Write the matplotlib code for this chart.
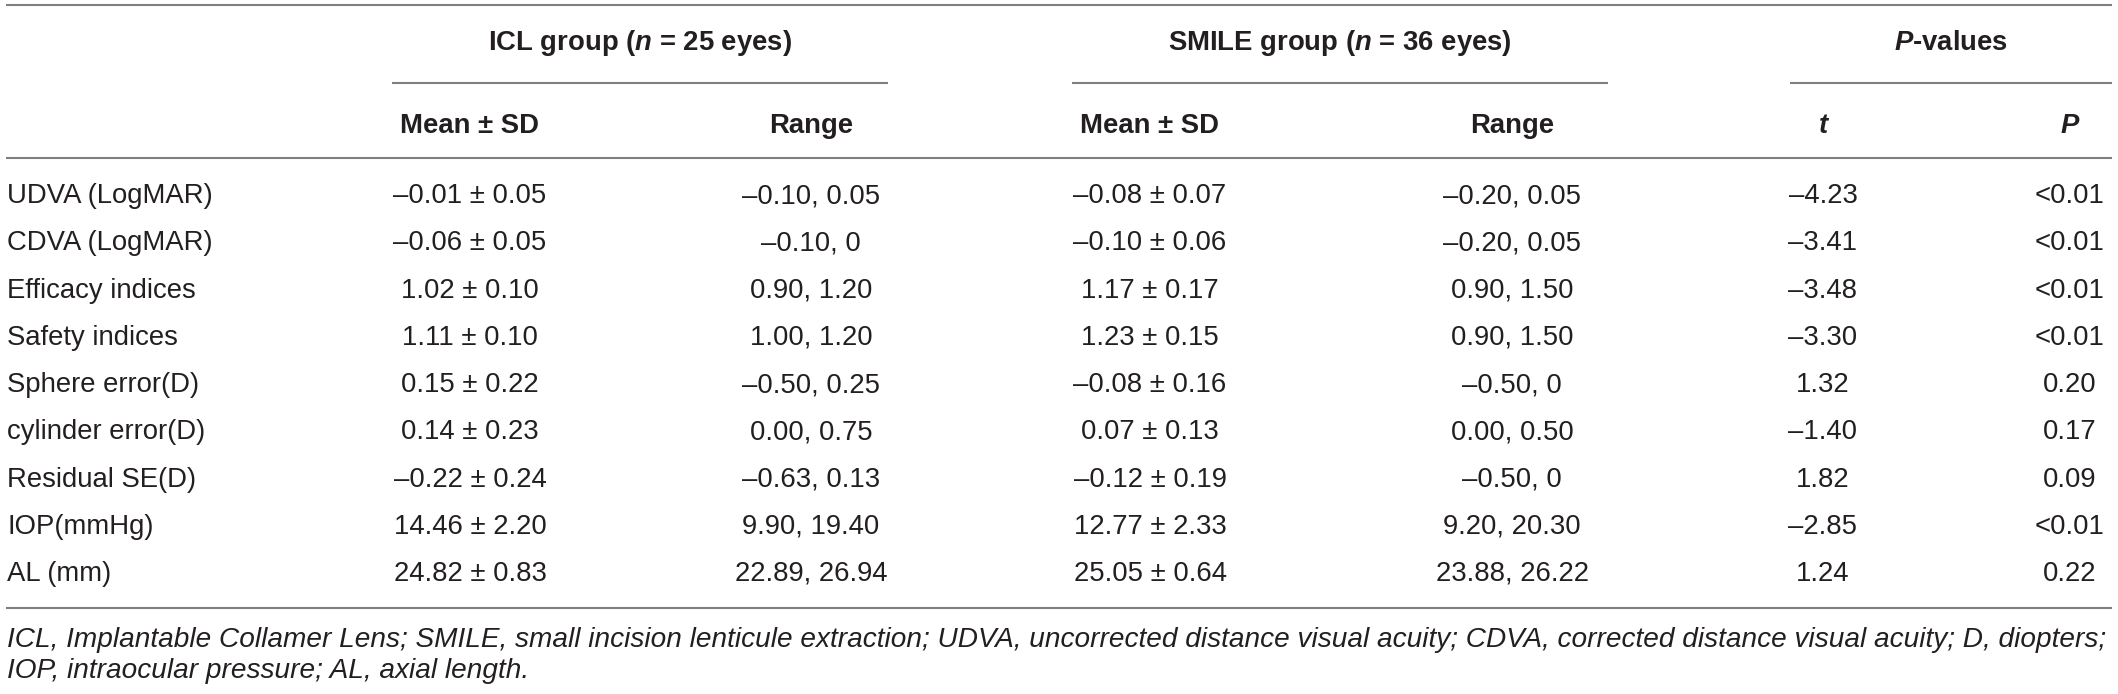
import matplotlib
matplotlib.use("Agg")
import matplotlib.pyplot as plt

plt.rcParams['font.family'] = ['Liberation Sans', 'DejaVu Sans']
plt.rcParams['mathtext.fontset'] = 'custom'
plt.rcParams['mathtext.it'] = 'Liberation Sans:italic:bold'
plt.rcParams['mathtext.rm'] = 'Liberation Sans:bold'

# table data
rows = ["UDVA (LogMAR)", "CDVA (LogMAR)", "Efficacy indices", "Safety indices",
        "Sphere error(D)", "cylinder error(D)", "Residual SE(D)", "IOP(mmHg)", "AL (mm)"]

icl_mean = [-0.01, -0.06, 1.02, 1.11, 0.15, 0.14, -0.22, 14.46, 24.82]
icl_sd = [0.05, 0.05, 0.10, 0.10, 0.22, 0.23, 0.24, 2.20, 0.83]
icl_range = ["–0.10, 0.05", "–0.10, 0", "0.90, 1.20", "1.00, 1.20", "–0.50, 0.25",
             "0.00, 0.75", "–0.63, 0.13", "9.90, 19.40", "22.89, 26.94"]

smile_mean = [-0.08, -0.10, 1.17, 1.23, -0.08, 0.07, -0.12, 12.77, 25.05]
smile_sd = [0.07, 0.06, 0.17, 0.15, 0.16, 0.13, 0.19, 2.33, 0.64]
smile_range = ["–0.20, 0.05", "–0.20, 0.05", "0.90, 1.50", "0.90, 1.50", "–0.50, 0",
               "0.00, 0.50", "–0.50, 0", "9.20, 20.30", "23.88, 26.22"]

t_values = [-4.23, -3.41, -3.48, -3.30, 1.32, -1.40, 1.82, -2.85, 1.24]
p_values = ["<0.01", "<0.01", "<0.01", "<0.01", "0.20", "0.17", "0.09", "<0.01", "0.22"]

group_labels = [r"ICL group ($n$ = 25 eyes)", r"SMILE group ($n$ = 36 eyes)", r"$P$-values"]
sub_labels = ["Mean ± SD", "Range", "Mean ± SD", "Range", "t", "P"]

footnote = ["ICL, Implantable Collamer Lens; SMILE, small incision lenticule extraction; "
            "UDVA, uncorrected distance visual acuity; CDVA, corrected distance visual acuity; D, diopters;",
            "IOP, intraocular pressure; AL, axial length."]


def fmt(v):
    return f"{v:.2f}".replace("-", "–")


W, H = 2118, 694
fig = plt.figure(figsize=(W / 100, H / 100), dpi=100)
ax = fig.add_axes([0, 0, 1, 1])
ax.set_xlim(0, W)
ax.set_ylim(H, 0)
ax.axis('off')

txt = '#231f20'
rule = '#7f7f7f'
fs = 19.8

col_x = [470, 811, 1150, 1512, 1823, 2070]
group_spans = [(392, 888), (1072, 1608), (1790, 2112)]

# rules
for y in (5, 158, 608):
    ax.hlines(y, 6, 2112, color=rule, lw=1.5)
for x0, x1 in group_spans:
    ax.hlines(83, x0, x1, color=rule, lw=1.5)

# headers
for (x0, x1), lab in zip(group_spans, group_labels):
    ax.text((x0 + x1) / 2, 50, lab, ha='center', va='baseline', fontsize=fs,
            fontweight='bold', color=txt)
for i, (x, lab) in enumerate(zip(col_x, sub_labels)):
    style = 'italic' if i >= 4 else 'normal'
    ax.text(x, 133, lab, ha='center', va='baseline', fontsize=fs,
            fontweight='bold', fontstyle=style, color=txt)

# body
y0, dy = 203, 47.25
for i, name in enumerate(rows):
    y = y0 + i * dy
    cells = [f"{fmt(icl_mean[i])} ± {fmt(icl_sd[i])}", icl_range[i],
             f"{fmt(smile_mean[i])} ± {fmt(smile_sd[i])}", smile_range[i],
             fmt(t_values[i]), p_values[i]]
    ax.text(7, y, name, ha='left', va='baseline', fontsize=fs, color=txt)
    for x, c in zip(col_x, cells):
        ax.text(x, y, c, ha='center', va='baseline', fontsize=fs, color=txt)

# footnote
for k, line in enumerate(footnote):
    ax.text(7, 647 + k * 31, line, ha='left', va='baseline', fontsize=20.2,
            fontstyle='italic', color=txt)

fig.savefig("out.png", dpi=100)
